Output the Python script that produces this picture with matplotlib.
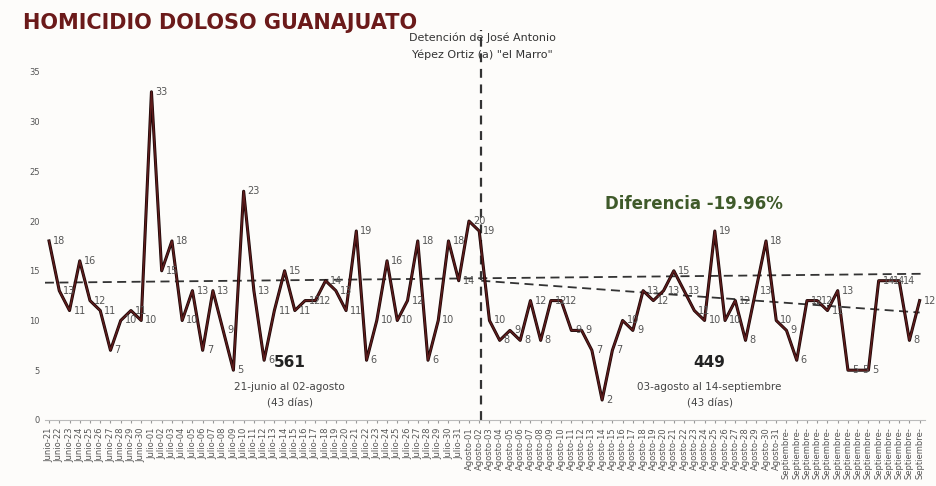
import matplotlib
matplotlib.use("Agg")
import matplotlib.pyplot as plt

months = ["Junio"]*10 + ["Julio"]*31 + ["Agosto"]*31 + ["Septiembre"]*14
days = list(range(21, 31)) + list(range(1, 32)) + list(range(1, 32)) + list(range(1, 15))
labels = [f"{m}-{d:02d}" if m != "Septiembre" else "Septiembre-" for m, d in zip(months, days)]
values = [18,13,11,16,12,11,7,10,11,10,33,15,18,10,13,7,13,9,5,23,
          13,6,11,15,11,12,12,14,13,11,19,6,10,16,10,12,18,6,10,18,14,20,19,
          10,8,9,8,12,8,12,12,9,9,7,2,7,10,9,13,12,13,15,13,11,10,19,10,12,8,13,18,10,9,
          6,12,12,11,13,5,5,5,14,14,14,8,12]
trend_all_x = [-0.4, 85.5]; trend_all_y = [13.8, 14.7]
trend2_x = [42.2, 85]; trend2_y = [14.0, 10.8]
split_x = 42.2

fig = plt.figure(figsize=(9.36, 4.86), dpi=100)
fig.patch.set_facecolor("#fdfcfa")
ax = fig.add_axes([0.048, 0.136, 0.94, 0.716])
ax.set_facecolor("none")
x = list(range(len(values)))
ax.plot(x, values, color="#1a0505", lw=2.2, zorder=3)
ax.plot(x, values, color="#5e1c1c", lw=1.1, zorder=4)
for xi, v in zip(x, values):
    ax.text(xi + 0.4, v, str(v), fontsize=7, color="#555555", va="center", ha="left", zorder=5)
ax.plot(trend_all_x, trend_all_y, ls=(0, (5, 3)), color="#333333", lw=1.3)
ax.plot(trend2_x, trend2_y, ls=(0, (5, 3)), color="#333333", lw=1.3)
ax.axvline(split_x, ls=(0, (4, 3)), color="#333333", lw=1.6, ymin=0, ymax=1.12, clip_on=False)
ax.set_xlim(-0.4, 85.5)
ax.set_ylim(0, 35)
ax.set_yticks(range(0, 36, 5))
ax.tick_params(axis="y", labelsize=6, colors="#555555", length=0)
ax.set_xticks(x)
ax.set_xticklabels(labels, rotation=90, fontsize=6, color="#555555")
ax.tick_params(axis="x", length=2, colors="#999999", labelcolor="#555555")
for s in ["top", "right", "left"]:
    ax.spines[s].set_visible(False)
ax.spines["bottom"].set_color("#bbbbbb")

ax.text(23.5, 5.3, "561", fontsize=11, fontweight="bold", ha="center", color="#222222")
ax.text(23.5, 3.0, "21-junio al 02-agosto", fontsize=7.5, ha="center", color="#444444")
ax.text(23.5, 1.3, "(43 días)", fontsize=7.5, ha="center", color="#444444")
ax.text(64.5, 5.3, "449", fontsize=11, fontweight="bold", ha="center", color="#222222")
ax.text(64.5, 3.0, "03-agosto al 14-septiembre", fontsize=7.5, ha="center", color="#444444")
ax.text(64.5, 1.3, "(43 días)", fontsize=7.5, ha="center", color="#444444")
ax.text(63, 21.2, "Diferencia -19.96%", fontsize=12, fontweight="bold", ha="center", color="#3f5a2a")

fig.text(0.515, 0.922, "Detención de José Antonio", fontsize=8, ha="center", va="center", color="#333333")
fig.text(0.515, 0.887, "Yépez Ortiz (a) \"el Marro\"", fontsize=8, ha="center", va="center", color="#333333")
fig.text(0.025, 0.952, "HOMICIDIO DOLOSO GUANAJUATO", fontsize=15, fontweight="bold",
         color="#6b1a1a", va="center", ha="left")
fig.savefig("out.png", dpi=100, facecolor=fig.get_facecolor())
